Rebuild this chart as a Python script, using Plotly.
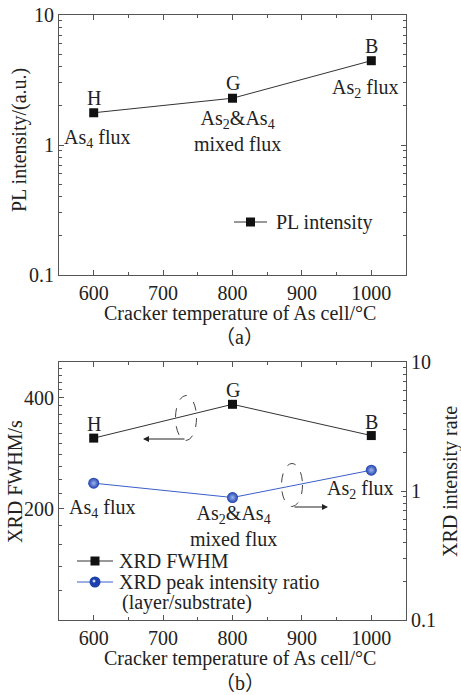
import numpy as np
import plotly.graph_objects as go

# ---- data ----
temps = [600, 800, 1000]
pl_intensity = [1.77, 2.29, 4.45]
xrd_fwhm = [311, 384, 316]
xrd_ratio = [1.15, 0.89, 1.45]
point_letters = ["H", "G", "B"]

W, H = 461, 695
FONT = "Liberation Serif"
FS = 20
TFS = 20
AX = "#555555"
TXT = "#222222"
BLUE_LINE = "#3a5fc8"
BLUE_MARK = "#1c3fae"

def px(x):
    return x / W

def py(y):
    return 1 - y / H

fig = go.Figure()

fig.add_trace(go.Scatter(
    x=temps, y=pl_intensity, mode="lines+markers", name="PL intensity",
    line=dict(color="#333333", width=1),
    marker=dict(symbol="square", size=9, color="#111111"),
    xaxis="x", yaxis="y", showlegend=False))

fig.add_trace(go.Scatter(
    x=temps, y=xrd_fwhm, mode="lines+markers", name="XRD FWHM",
    line=dict(color="#333333", width=1),
    marker=dict(symbol="square", size=9, color="#111111"),
    xaxis="x2", yaxis="y2", showlegend=False))

fig.add_trace(go.Scatter(
    x=temps, y=xrd_ratio, mode="lines+markers",
    name="XRD peak intensity ratio (layer/substrate)",
    line=dict(color=BLUE_LINE, width=1),
    marker=dict(symbol="circle", size=11, color=BLUE_MARK,
                gradient=dict(type="radial", color="#9fb4ee")),
    xaxis="x2", yaxis="y3", showlegend=False))

tickfont = dict(family=FONT, size=TFS, color=TXT)

def xaxis_cfg(anchor):
    return dict(
        domain=[px(59), px(406)], anchor=anchor, range=[550, 1050],
        tickmode="linear", tick0=600, dtick=100,
        ticks="inside", ticklen=5, tickcolor=AX, showline=True, linecolor=AX,
        linewidth=1, mirror="ticks", showgrid=False, zeroline=False,
        tickfont=tickfont,
        minor=dict(dtick=50, tick0=550, ticks="inside", ticklen=3, tickcolor=AX))

log_minor_01_10 = [v * d for d in (0.1, 1) for v in range(2, 10)]

fig.update_layout(
    width=W, height=H, margin=dict(l=0, r=0, t=0, b=0, autoexpand=False),
    paper_bgcolor="white", plot_bgcolor="white",
    font=dict(family=FONT, size=FS, color=TXT),
    xaxis=xaxis_cfg("y"),
    yaxis=dict(
        domain=[py(275), py(15)], anchor="x", type="log", range=[-1, 1],
        tickvals=[0.1, 1, 10], ticktext=["0.1", "1", "10"],
        ticks="inside", ticklen=5, tickcolor=AX, showline=True, linecolor=AX,
        linewidth=1, mirror="ticks", showgrid=False, zeroline=False,
        tickfont=tickfont,
        minor=dict(tickvals=log_minor_01_10, ticks="inside", ticklen=3, tickcolor=AX)),
    xaxis2=xaxis_cfg("y2"),
    yaxis2=dict(
        domain=[py(620), py(362)], anchor="x2", type="log",
        range=[np.log10(100), np.log10(500)],
        tickvals=[200, 400], ticktext=["200", "400"],
        ticks="inside", ticklen=5, tickcolor=AX, showline=True, linecolor=AX,
        linewidth=1, showgrid=False, zeroline=False, tickfont=tickfont,
        minor=dict(tickvals=[v for v in range(120, 500, 20) if v not in (200, 400)],
                   ticks="inside", ticklen=3, tickcolor=AX)),
    yaxis3=dict(
        overlaying="y2", anchor="x2", side="right", type="log", range=[-1, 1],
        tickvals=[0.1, 1, 10], ticktext=["0.1", "1", "10"],
        ticks="inside", ticklen=5, tickcolor=AX, showline=True, linecolor=AX,
        linewidth=1, showgrid=False, zeroline=False, tickfont=tickfont,
        minor=dict(tickvals=log_minor_01_10, ticks="inside", ticklen=3, tickcolor=AX)),
    showlegend=False,
)

ann = []

def text(t, x, y, size=FS, angle=0, xanchor="center", family=FONT):
    ann.append(dict(text=t, x=px(x), y=py(y), xref="paper", yref="paper",
                    showarrow=False, xanchor=xanchor, yanchor="middle",
                    textangle=angle, font=dict(family=family, size=size, color=TXT)))

# point letters tied to data
for xv, yv, lab in zip(temps, pl_intensity, point_letters):
    ann.append(dict(text=lab, x=xv, y=np.log10(yv), xref="x", yref="y",
                    showarrow=False, yshift=15, font=dict(family=FONT, size=FS, color=TXT)))
for xv, yv, lab in zip(temps, xrd_fwhm, point_letters):
    ann.append(dict(text=lab, x=xv, y=np.log10(yv), xref="x2", yref="y2",
                    showarrow=False, yshift=14, font=dict(family=FONT, size=FS, color=TXT)))

# top panel labels
text("As<sub>4</sub> flux", 97, 138)
text("As<sub>2</sub>&As<sub>4</sub><br>mixed flux", 237, 131)
text("As<sub>2</sub> flux", 365, 88)
text("Cracker temperature of As cell/°C", 240, 313)
text("（a）", 240, 337, family="Liberation Serif, Noto Sans CJK SC")
text("PL intensity/(a.u.)", 20, 140, angle=-90)

# bottom panel labels
text("As<sub>4</sub> flux", 102, 508)
text("As<sub>2</sub>&As<sub>4</sub><br>mixed flux", 233, 526)
text("As<sub>2</sub> flux", 360, 490)
text("Cracker temperature of As cell/°C", 240, 658)
text("（b）", 240, 683, family="Liberation Serif, Noto Sans CJK SC")
text("XRD FWHM/s", 15, 482, angle=-90)
text("XRD intensity rate", 451, 482, angle=-90)

# legends (manual)
def legend_entry(x0, x1, y, label, kind, color_line, tx):
    fig.add_shape(type="line", xref="paper", yref="paper",
                  x0=px(x0), x1=px(x1), y0=py(y), y1=py(y),
                  line=dict(color=color_line, width=1))
    cx = (x0 + x1) / 2
    if kind == "square":
        fig.add_shape(type="rect", xref="paper", yref="paper",
                      x0=px(cx - 4.5), x1=px(cx + 4.5), y0=py(y + 4.5), y1=py(y - 4.5),
                      fillcolor="#111111", line=dict(width=0))
    else:
        fig.add_shape(type="circle", xref="paper", yref="paper",
                      x0=px(cx - 5.5), x1=px(cx + 5.5), y0=py(y + 5.5), y1=py(y - 5.5),
                      fillcolor=BLUE_MARK, line=dict(width=0))
        fig.add_shape(type="circle", xref="paper", yref="paper",
                      x0=px(cx - 2.5), x1=px(cx + 0.5), y0=py(y + 0.5), y1=py(y - 2.5),
                      fillcolor="#c8d4f4", line=dict(width=0))
    text(label, tx, y, xanchor="left")

legend_entry(234, 267, 222, "PL intensity", "square", "#333333", 274)
legend_entry(77, 113, 561, "XRD FWHM", "square", "#333333", 117)
legend_entry(77, 113, 582, "XRD peak intensity ratio", "circle", BLUE_LINE, 117)
text("(layer/substrate)", 120, 602, xanchor="left")

# arrows
ann.append(dict(x=px(143), y=py(439), xref="paper", yref="paper", ax=43, ay=0,
                showarrow=True, arrowhead=2, arrowsize=1.2, arrowwidth=1,
                arrowcolor="#222222", text=""))
ann.append(dict(x=px(328), y=py(507), xref="paper", yref="paper", ax=-35, ay=0,
                showarrow=True, arrowhead=2, arrowsize=1.2, arrowwidth=1,
                arrowcolor="#222222", text=""))

fig.update_layout(annotations=ann)

# dashed ellipses
for cx, cy, w, h in [(186, 418, 21, 45), (292, 485, 21, 43)]:
    fig.add_shape(type="circle", xref="paper", yref="paper",
                  x0=px(cx - w / 2), x1=px(cx + w / 2),
                  y0=py(cy + h / 2), y1=py(cy - h / 2),
                  line=dict(color="#444444", width=1, dash="dash"))

fig.write_html("out.html", config={"displayModeBar": False},
               post_script="document.body.style.margin='0';document.body.style.overflow='hidden';")
